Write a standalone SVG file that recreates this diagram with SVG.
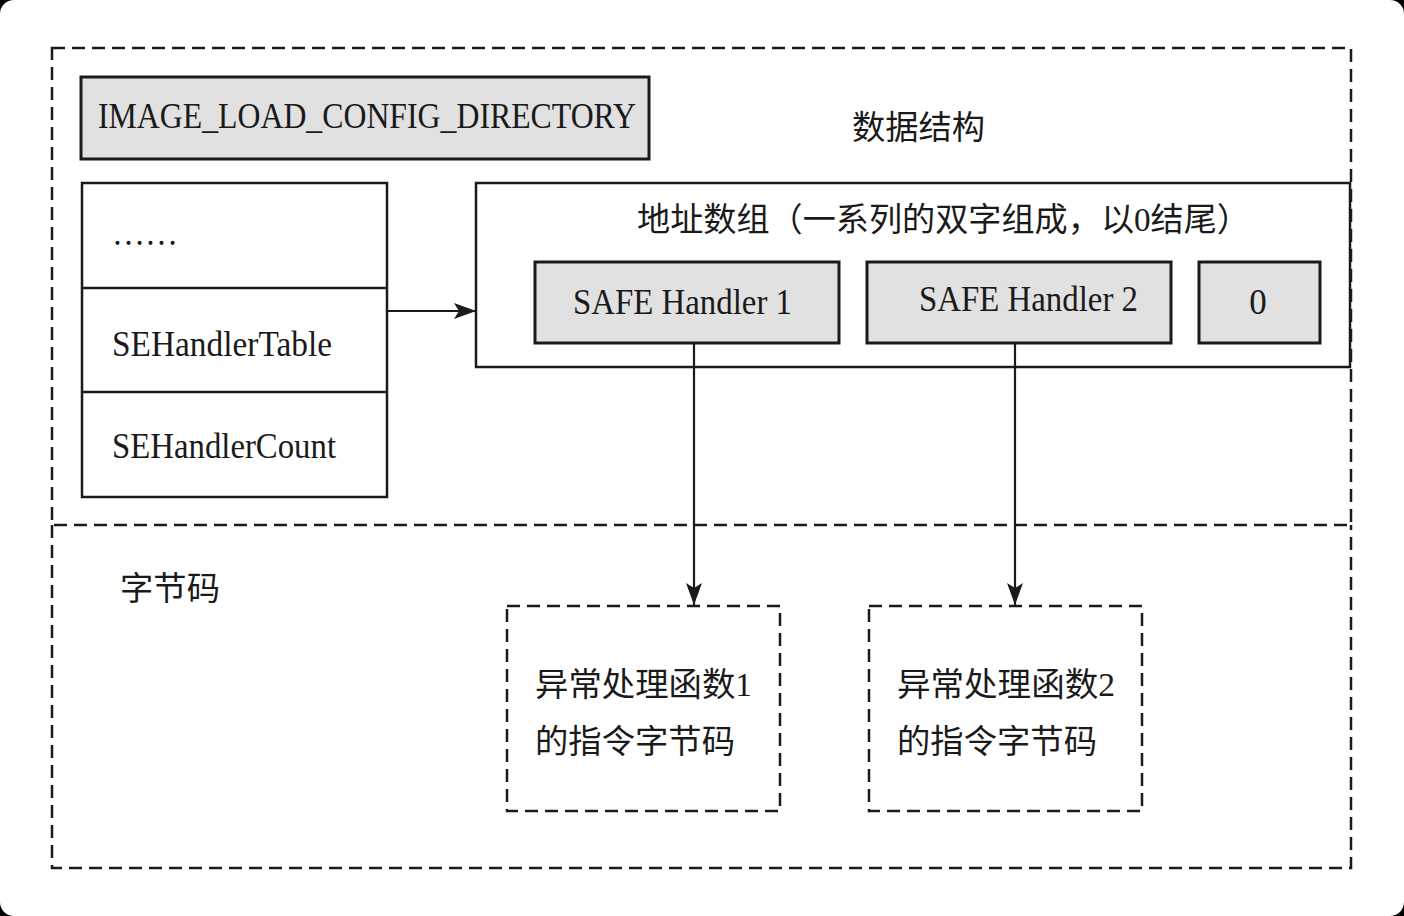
<svg xmlns="http://www.w3.org/2000/svg" width="1404" height="916" viewBox="0 0 1404 916">
<defs>
<style>
.solid{fill:#ffffff;stroke:#1a1a1a;stroke-width:2.5}
.gray{fill:#e1e1e1;stroke:#1a1a1a;stroke-width:3}
.dash{fill:none;stroke:#1a1a1a;stroke-width:2.5;stroke-dasharray:13 7}
.lat{font-family:"Liberation Serif","Noto Sans CJK SC",serif;font-size:35px;fill:#1a1a1a}
.cjk{font-family:"Liberation Serif","Noto Sans CJK SC",serif;font-size:33px;fill:#1a1a1a}
.line{stroke:#1a1a1a;stroke-width:2.2;fill:none}
</style>
<marker id="arr" viewBox="0 0 22 16" refX="22" refY="8" markerWidth="22" markerHeight="16" markerUnits="userSpaceOnUse" orient="auto">
<path d="M0,0 L22,8 L0,16 L5,8 Z" fill="#1a1a1a"/>
</marker>
</defs>
<rect x="0" y="0" width="1404" height="916" fill="#000000"/>
<rect x="0" y="0" width="1404" height="916" rx="14" ry="14" fill="#ffffff"/>

<g id="frame-data">
<path class="dash" d="M52,48 H1351 V525 H52 Z"/>
<text class="cjk" x="852" y="139" textLength="133" lengthAdjust="spacingAndGlyphs">数据结构</text>
</g>
<g id="frame-bytecode">
<path class="dash" d="M52,525 V868 H1351 V525"/>
<text class="cjk" x="120" y="600" textLength="100" lengthAdjust="spacingAndGlyphs">字节码</text>
</g>

<g id="image-load-config">
<rect class="gray" x="81" y="77" width="568" height="82"/>
<text class="lat" x="98" y="128" textLength="538" lengthAdjust="spacingAndGlyphs">IMAGE_LOAD_CONFIG_DIRECTORY</text>
</g>

<g id="table">
<rect class="solid" x="82" y="183" width="305" height="314"/>
<line class="line" x1="82" y1="288" x2="387" y2="288" style="stroke-width:2.5"/>
<line class="line" x1="82" y1="392" x2="387" y2="392" style="stroke-width:2.5"/>
<text class="lat" x="112" y="245" textLength="66" lengthAdjust="spacingAndGlyphs">……</text>
<text class="lat" x="112" y="356" textLength="220" lengthAdjust="spacingAndGlyphs">SEHandlerTable</text>
<text class="lat" x="112" y="458" textLength="224" lengthAdjust="spacingAndGlyphs">SEHandlerCount</text>
</g>

<g id="address-array">
<rect class="solid" x="476" y="183" width="874" height="184"/>
<text class="cjk" x="637" y="231" textLength="613" lengthAdjust="spacingAndGlyphs">地址数组（一系列的双字组成，以0结尾）</text>
</g>
<g id="safe-handler-1">
<rect class="gray" x="535" y="262" width="304" height="81"/>
<text class="lat" x="573" y="314" textLength="219" lengthAdjust="spacingAndGlyphs">SAFE Handler 1</text>
</g>
<g id="safe-handler-2">
<rect class="gray" x="867" y="262" width="304" height="81"/>
<text class="lat" x="919" y="311" textLength="219" lengthAdjust="spacingAndGlyphs">SAFE Handler 2</text>
</g>
<g id="zero">
<rect class="gray" x="1199" y="262" width="121" height="81"/>
<text class="lat" x="1258" y="314" text-anchor="middle">0</text>
</g>

<g id="handler-1-code">
<rect class="dash" x="507" y="606" width="273" height="205"/>
<text class="cjk" x="535" y="696" textLength="217" lengthAdjust="spacingAndGlyphs">异常处理函数1</text>
<text class="cjk" x="535" y="753" textLength="200" lengthAdjust="spacingAndGlyphs">的指令字节码</text>
</g>
<g id="handler-2-code">
<rect class="dash" x="869" y="606" width="273" height="205"/>
<text class="cjk" x="897" y="696" textLength="218" lengthAdjust="spacingAndGlyphs">异常处理函数2</text>
<text class="cjk" x="897" y="753" textLength="200" lengthAdjust="spacingAndGlyphs">的指令字节码</text>
</g>

<g id="connectors">
<line class="line" x1="387" y1="311" x2="476" y2="311" marker-end="url(#arr)"/>
<line class="line" x1="694" y1="343" x2="694" y2="605" marker-end="url(#arr)"/>
<line class="line" x1="1015" y1="343" x2="1015" y2="605" marker-end="url(#arr)"/>
</g>
</svg>
